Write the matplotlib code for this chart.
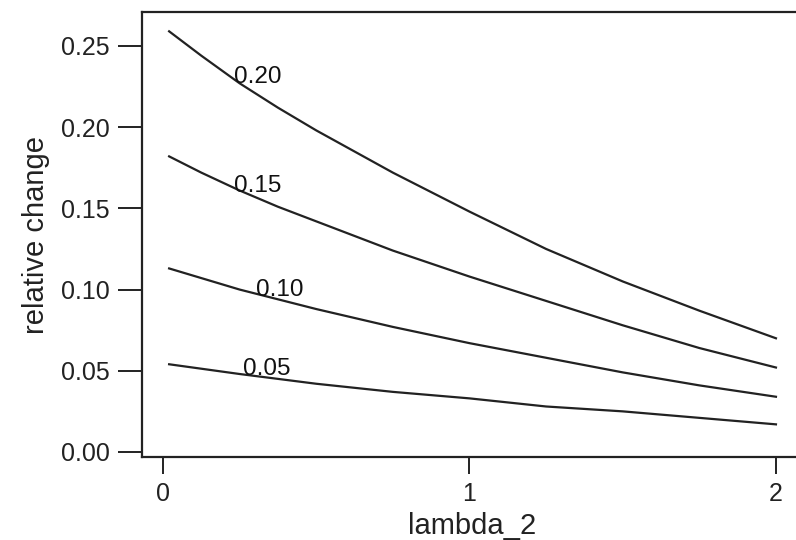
import matplotlib
matplotlib.use('Agg')
import matplotlib.pyplot as plt

plt.rcParams['font.family'] = ['Liberation Sans', 'DejaVu Sans']

# lambda_2 grids; the steeper upper curves were read at a finer step
lambda_fine = [0.02, 0.125, 0.25, 0.375, 0.5, 0.625, 0.75, 0.875, 1.0, 1.25, 1.5, 1.75, 2.0]
lambda_coarse = [0.02, 0.25, 0.5, 0.75, 1.0, 1.25, 1.5, 1.75, 2.0]

# relative change
change_020 = [0.259, 0.244, 0.227, 0.212, 0.198, 0.185, 0.172, 0.160, 0.148, 0.125, 0.105, 0.087, 0.070]
change_015 = [0.182, 0.172, 0.161, 0.151, 0.142, 0.133, 0.124, 0.116, 0.108, 0.093, 0.078, 0.064, 0.052]
change_010 = [0.113, 0.100, 0.088, 0.077, 0.067, 0.058, 0.049, 0.041, 0.034]
change_005 = [0.054, 0.048, 0.042, 0.037, 0.033, 0.028, 0.025, 0.021, 0.017]

curve_labels = ['0.20', '0.15', '0.10', '0.05']
label_x = [0.31, 0.31, 0.38, 0.34]
label_y = [0.231, 0.164, 0.100, 0.051]

fig = plt.figure(figsize=(7.96, 5.40), dpi=100)
ax = fig.add_axes([142 / 796, 83 / 540, 660 / 796, 445 / 540])

ax.plot(lambda_fine, change_020, color='#222222', lw=1.6)
ax.plot(lambda_fine, change_015, color='#222222', lw=1.6)
ax.plot(lambda_coarse, change_010, color='#222222', lw=1.6)
ax.plot(lambda_coarse, change_005, color='#222222', lw=1.6)

# contour style labels sitting on the curves
for lab, lx, ly in zip(curve_labels, label_x, label_y):
    ax.text(lx, ly, lab, fontsize=17.5, ha='center', va='center', color='#111111')

ax.set_xlim(-0.0685, 2.085)
ax.set_ylim(-0.0031, 0.2709)

ax.set_xticks([0, 1, 2])
ax.set_xticklabels(['0', '1', '2'])
ax.set_yticks([0.0, 0.05, 0.10, 0.15, 0.20, 0.25])
ax.set_yticklabels(['0.00', '0.05', '0.10', '0.15', '0.20', '0.25'])

ax.tick_params(axis='y', direction='out', length=17, width=1.4, pad=6, labelsize=18, colors='#222222')
ax.tick_params(axis='x', direction='out', length=12, width=1.4, pad=6, labelsize=18, colors='#222222')

for s in ax.spines.values():
    s.set_linewidth(1.6)
    s.set_color('#222222')

ax.set_xlabel('lambda_2', fontsize=21, labelpad=4, color='#222222')
ax.set_ylabel('relative change', fontsize=21, labelpad=8, color='#222222')

fig.savefig('out.png', dpi=100)
